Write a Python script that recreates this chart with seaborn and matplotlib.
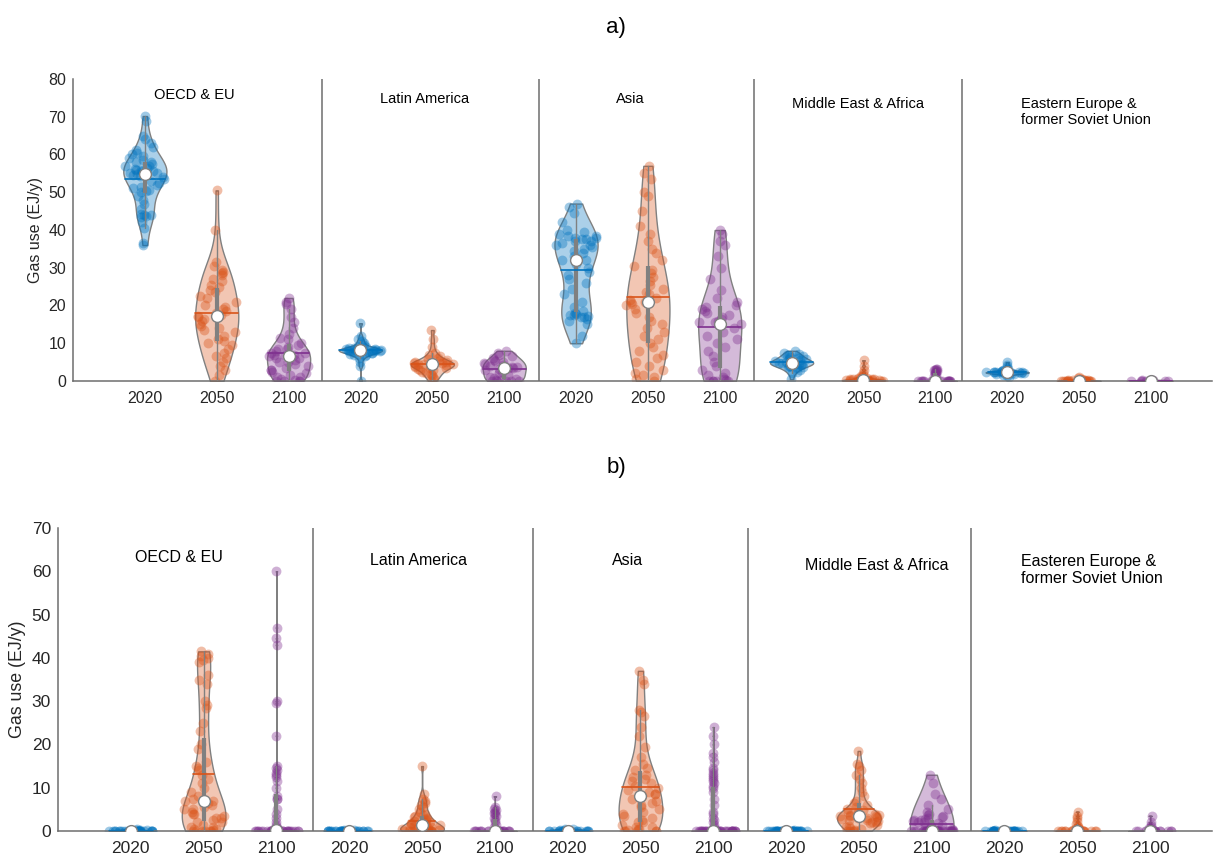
import numpy as np
import pandas as pd
import matplotlib
matplotlib.use("Agg")
import matplotlib.pyplot as plt
import seaborn as sns

# ---------------- data ----------------
years = ["2020", "2050", "2100"]
regions_a = ["OECD & EU", "Latin America", "Asia", "Middle East & Africa",
             "Eastern Europe &\nformer Soviet Union"]
regions_b = ["OECD & EU", "Latin America", "Asia", "Middle East & Africa",
             "Easteren Europe &\nformer Soviet Union"]

# panel a)
a_oecd_2020 = [70.2, 69.0, 65.0, 64.0, 63.0, 62.0, 61.2, 60.5, 60.0, 59.5, 59.0, 58.5, 58.0,
               58.0, 57.5, 57.0, 57.0, 56.5, 56.2, 56.0, 55.8, 55.5, 55.5, 55.2, 55.0, 55.0,
               54.8, 54.5, 54.2, 54.0, 53.5, 53.0, 52.5, 52.0, 51.5, 51.0, 50.5, 50.2, 50.0,
               49.0, 48.0, 47.0, 45.5, 44.2, 44.0, 44.0, 43.8, 43.5, 42.0, 40.5, 36.5, 36.0]
a_oecd_2050 = [50.5, 40.0, 31.5, 30.5, 29.5, 29.0, 28.5, 28.0, 27.0, 26.5, 25.5, 25.0, 24.0,
               23.5, 22.5, 22.0, 21.0, 20.0, 19.5, 19.0, 18.5, 18.0, 17.5, 17.2, 17.0, 16.5,
               16.0, 15.0, 14.5, 14.0, 13.5, 13.0, 12.0, 11.0, 10.5, 10.0, 9.5, 8.5, 7.5,
               6.5, 6.0, 5.0, 4.0, 3.0, 1.5, 0.0]
a_oecd_2100 = [22.0, 21.0, 20.5, 19.0, 17.0, 15.5, 14.0, 12.5, 11.5, 11.0, 10.0, 9.5, 9.0,
               8.5, 8.5, 8.0, 7.5, 7.5, 7.0, 7.0, 6.8, 6.5, 6.2, 6.0, 5.5, 5.0, 5.0, 4.5,
               4.0, 3.5, 3.0, 3.0, 2.5, 2.0, 1.5, 1.0, 1.0, 0.5, 0.3, 0.0, 0.0, 0.0, 0.0]
a_la_2020 = [15.3, 12.0, 11.0, 10.5, 10.0, 9.5, 9.2, 9.0, 8.8, 8.7, 8.6, 8.5, 8.4, 8.3, 8.3,
             8.2, 8.2, 8.1, 8.0, 8.0, 7.9, 7.8, 7.7, 7.6, 7.5, 7.4, 7.2, 7.0, 6.8, 6.5, 6.0,
             5.0, 4.0, 0.0]
a_la_2050 = [13.5, 11.0, 9.0, 7.5, 7.0, 6.5, 6.0, 5.8, 5.5, 5.3, 5.0, 5.0, 4.8, 4.7, 4.6,
             4.5, 4.5, 4.4, 4.3, 4.2, 4.0, 4.0, 3.8, 3.5, 3.5, 3.2, 3.0, 2.8, 2.5, 2.0, 1.8,
             1.5, 1.0, 0.5, 0.0]
a_la_2100 = [8.0, 7.5, 7.0, 6.5, 6.0, 5.5, 5.2, 5.0, 4.8, 4.5, 4.3, 4.0, 3.8, 3.6, 3.5, 3.4,
             3.3, 3.0, 2.5, 2.0, 1.5, 1.0, 0.8, 0.5, 0.3, 0.2, 0.1, 0.0, 0.0, 0.0, 0.0]
a_asia_2020 = [47.0, 46.0, 44.5, 42.0, 40.0, 39.5, 39.0, 38.5, 38.5, 38.0, 38.0, 37.5, 37.5,
               37.0, 37.0, 36.5, 36.0, 36.0, 35.5, 35.0, 34.5, 34.0, 33.0, 32.0, 32.0, 31.0,
               30.0, 29.0, 28.0, 27.0, 26.0, 24.5, 23.0, 21.0, 19.5, 18.5, 18.0, 17.8, 17.5,
               17.5, 17.2, 17.0, 17.0, 16.5, 16.0, 15.0, 12.0, 10.0]
a_asia_2050 = [57.0, 55.0, 53.5, 50.0, 49.0, 45.0, 41.0, 39.0, 37.0, 35.0, 34.0, 32.0, 30.5,
               29.5, 28.5, 27.5, 26.5, 25.5, 24.5, 23.5, 23.0, 22.0, 21.5, 21.0, 21.0, 20.5,
               20.0, 19.0, 18.0, 17.0, 16.0, 15.0, 14.0, 13.0, 12.0, 11.0, 10.0, 9.0, 8.0,
               7.0, 6.0, 5.0, 4.0, 3.0, 2.0, 1.5, 1.0, 0.5, 0.0]
a_asia_2100 = [40.0, 39.0, 37.0, 36.0, 33.0, 30.0, 27.0, 24.0, 22.0, 21.0, 20.0, 19.5, 19.0,
               18.5, 18.0, 17.5, 17.0, 16.5, 16.0, 15.5, 15.5, 15.0, 14.0, 13.0, 12.0, 11.0,
               10.0, 9.0, 8.0, 6.5, 5.0, 4.0, 3.0, 2.0, 1.5, 1.0, 0.5, 0.3, 0.0, 0.0, 0.0,
               0.0, 0.0]
a_mea_2020 = [8.0, 7.5, 7.2, 7.0, 6.8, 6.5, 6.3, 6.0, 5.9, 5.7, 5.5, 5.4, 5.2, 5.1, 5.0, 4.9,
              4.8, 4.8, 4.7, 4.6, 4.5, 4.4, 4.3, 4.1, 4.0, 3.8, 3.6, 3.4, 3.0, 2.5, 2.0, 0.5]
a_mea_2050 = [5.5, 4.0, 3.0, 2.2, 1.6, 1.2, 1.0, 0.8, 0.7, 0.6, 0.5, 0.5, 0.4, 0.4, 0.3, 0.3,
              0.3, 0.2, 0.2, 0.2, 0.1, 0.1, 0.1, 0.1, 0.0, 0.0, 0.0, 0.0, 0.0, 0.0]
a_mea_2100 = [3.2, 3.1, 3.0, 2.9, 2.8, 2.6, 2.4, 2.2, 2.0, 1.6, 1.2, 0.8, 0.5, 0.2, 0.05,
              0.04, 0.03, 0.03, 0.02, 0.02, 0.02, 0.01, 0.01, 0.01, 0.01, 0.0, 0.0, 0.0,
              0.0, 0.0, 0.0, 0.0]
a_ee_2020 = [5.0, 4.3, 3.8, 3.3, 3.0, 2.8, 2.7, 2.6, 2.5, 2.5, 2.4, 2.4, 2.4, 2.3, 2.3, 2.3,
             2.2, 2.2, 2.2, 2.1, 2.1, 2.0, 2.0, 1.9, 1.8, 1.6, 1.3, 1.0]
a_ee_2050 = [1.0, 0.8, 0.6, 0.5, 0.4, 0.3, 0.3, 0.2, 0.2, 0.2, 0.1, 0.1, 0.1, 0.1, 0.0, 0.0,
             0.0, 0.0, 0.0, 0.0, 0.0, 0.0, 0.0, 0.0]
a_ee_2100 = [0.3, 0.2, 0.1, 0.1, 0.0, 0.0, 0.0, 0.0, 0.0, 0.0]

# panel b)
b_oecd_2020 = [0.4, 0.3, 0.2, 0.2, 0.1, 0.1, 0.1, 0.05, 0.0, 0.0, 0.0, 0.0, 0.0, 0.0, 0.0,
               0.0, 0.0, 0.0, 0.0, 0.0, 0.0, 0.0, 0.0, 0.0, 0.0, 0.0, 0.0, 0.0, 0.0, 0.0]
b_oecd_2050 = [41.5, 41.0, 40.5, 40.0, 39.5, 39.0, 36.0, 35.0, 34.0, 30.0, 29.0, 28.5, 25.0,
               23.0, 20.0, 19.0, 16.0, 15.0, 14.5, 14.0, 13.0, 12.0, 11.0, 10.0, 9.0, 8.0,
               7.5, 7.0, 7.0, 6.5, 6.0, 5.5, 5.0, 5.0, 4.5, 4.0, 4.0, 3.5, 3.0, 3.0, 2.5,
               2.0, 2.0, 1.5, 1.0, 1.0, 0.5, 0.5, 0.3, 0.0, 0.0, 0.0, 0.0, 0.0, 0.0]
b_oecd_2100 = [60.0, 47.0, 44.5, 43.0, 30.0, 29.5, 22.0, 15.0, 14.5, 14.0, 13.5, 13.0, 12.5,
               11.5, 10.0, 8.0, 7.5, 7.5, 5.0, 4.0, 3.0, 2.0, 1.5, 1.0, 0.8, 0.5, 0.5, 0.3,
               0.2, 0.2, 0.1, 0.1, 0.0, 0.0, 0.0, 0.0, 0.0, 0.0, 0.0, 0.0, 0.0, 0.0, 0.0,
               0.0, 0.0, 0.0, 0.0, 0.0, 0.0, 0.0, 0.0, 0.0, 0.0, 0.0, 0.0, 0.0, 0.0, 0.0,
               0.0, 0.0]
b_la_2020 = [0.3, 0.2, 0.1, 0.1, 0.05, 0.0, 0.0, 0.0, 0.0, 0.0, 0.0, 0.0, 0.0, 0.0, 0.0,
             0.0, 0.0, 0.0, 0.0, 0.0, 0.0, 0.0, 0.0, 0.0, 0.0, 0.0, 0.0, 0.0, 0.0, 0.0]
b_la_2050 = [15.0, 8.5, 7.5, 7.0, 6.5, 6.0, 5.5, 5.0, 4.5, 4.0, 3.8, 3.5, 3.2, 3.0, 2.8, 2.5,
             2.2, 2.0, 2.0, 1.8, 1.6, 1.5, 1.4, 1.3, 1.2, 1.0, 1.0, 0.8, 0.6, 0.5, 0.4, 0.3,
             0.2, 0.1, 0.1, 0.0, 0.0, 0.0, 0.0, 0.0, 0.0, 0.0, 0.0, 0.0, 0.0, 0.0]
b_la_2100 = [8.0, 5.5, 5.0, 4.8, 4.5, 4.2, 4.0, 3.5, 3.0, 2.5, 2.0, 1.5, 1.0, 0.5, 0.2, 0.05,
             0.04, 0.03, 0.03, 0.02, 0.02, 0.02, 0.01, 0.01, 0.01, 0.01, 0.0, 0.0, 0.0,
             0.0, 0.0, 0.0, 0.0, 0.0, 0.0]
b_asia_2020 = [0.5, 0.4, 0.3, 0.2, 0.1, 0.0, 0.0, 0.0, 0.0, 0.0, 0.0, 0.0, 0.0, 0.0, 0.0,
               0.0, 0.0, 0.0, 0.0, 0.0]
b_asia_2050 = [37.0, 35.0, 34.0, 28.0, 27.5, 26.5, 24.0, 22.0, 19.5, 17.0, 15.5, 14.5, 14.0,
               13.0, 12.5, 12.0, 11.5, 11.0, 10.5, 10.0, 9.5, 9.0, 8.5, 8.5, 8.0, 8.0, 7.5,
               7.0, 6.5, 6.0, 5.5, 5.0, 4.5, 4.0, 3.5, 3.0, 2.5, 2.0, 2.0, 1.5, 1.0, 1.0,
               0.5, 0.5, 0.3, 0.0, 0.0, 0.0, 0.0, 0.0]
b_asia_2100 = [24.0, 22.0, 20.0, 18.0, 17.0, 16.0, 14.5, 14.0, 13.5, 13.0, 12.5, 12.0, 11.5,
               11.0, 10.5, 10.0, 9.0, 7.5, 6.0, 4.5, 4.0, 3.0, 2.5, 2.0, 1.5, 1.0, 0.5, 0.3,
               0.2, 0.1, 0.0, 0.0, 0.0, 0.0, 0.0, 0.0, 0.0, 0.0, 0.0, 0.0, 0.0, 0.0, 0.0,
               0.0, 0.0, 0.0, 0.0, 0.0, 0.0, 0.0, 0.0, 0.0, 0.0, 0.0, 0.0, 0.0, 0.0, 0.0,
               0.0, 0.0]
b_mea_2020 = [0.3, 0.2, 0.1, 0.1, 0.0, 0.0, 0.0, 0.0, 0.0, 0.0, 0.0, 0.0, 0.0, 0.0, 0.0,
              0.0, 0.0, 0.0, 0.0, 0.0, 0.0, 0.0, 0.0, 0.0, 0.0, 0.0, 0.0, 0.0, 0.0, 0.0,
              0.0, 0.0, 0.0, 0.0]
b_mea_2050 = [18.5, 15.5, 15.0, 14.0, 13.0, 12.0, 11.0, 10.0, 9.0, 8.0, 7.0, 6.5, 6.0, 5.5,
              5.0, 4.8, 4.5, 4.3, 4.0, 4.0, 3.8, 3.6, 3.5, 3.5, 3.4, 3.2, 3.0, 3.0, 2.8, 2.6,
              2.5, 2.3, 2.0, 2.0, 1.8, 1.5, 1.2, 1.0, 0.8, 0.5, 0.3, 0.0, 0.0, 0.0, 0.0]
b_mea_2100 = [13.0, 11.0, 8.5, 7.5, 6.0, 5.0, 4.5, 4.0, 3.8, 3.5, 3.2, 3.0, 2.8, 2.5, 2.5,
              2.2, 2.0, 2.0, 1.8, 1.5, 1.2, 1.0, 0.8, 0.5, 0.3, 0.0, 0.0, 0.0, 0.0, 0.0,
              0.0, 0.0, 0.0, 0.0, 0.0, 0.0, 0.0, 0.0, 0.0, 0.0, 0.0, 0.0, 0.0, 0.0, 0.0,
              0.0, 0.0, 0.0, 0.0, 0.0, 0.0, 0.0, 0.0, 0.0, 0.0]
b_ee_2020 = [0.3, 0.2, 0.1, 0.1, 0.0, 0.0, 0.0, 0.0, 0.0, 0.0, 0.0, 0.0, 0.0, 0.0, 0.0,
             0.0, 0.0, 0.0, 0.0, 0.0, 0.0, 0.0, 0.0, 0.0, 0.0, 0.0, 0.0, 0.0, 0.0]
b_ee_2050 = [4.5, 3.5, 3.0, 2.2, 1.6, 1.2, 1.0, 0.8, 0.6, 0.5, 0.4, 0.3, 0.3, 0.2, 0.1, 0.1,
             0.0, 0.0, 0.0, 0.0, 0.0, 0.0, 0.0, 0.0, 0.0, 0.0, 0.0, 0.0, 0.0, 0.0]
b_ee_2100 = [3.5, 2.0, 1.5, 1.0, 0.6, 0.4, 0.2, 0.1, 0.05, 0.04, 0.03, 0.02, 0.02, 0.01,
             0.01, 0.01, 0.0, 0.0, 0.0, 0.0, 0.0, 0.0, 0.0, 0.0, 0.0, 0.0, 0.0, 0.0]

groups_a = [a_oecd_2020, a_oecd_2050, a_oecd_2100, a_la_2020, a_la_2050, a_la_2100,
            a_asia_2020, a_asia_2050, a_asia_2100, a_mea_2020, a_mea_2050, a_mea_2100,
            a_ee_2020, a_ee_2050, a_ee_2100]
groups_b = [b_oecd_2020, b_oecd_2050, b_oecd_2100, b_la_2020, b_la_2050, b_la_2100,
            b_asia_2020, b_asia_2050, b_asia_2100, b_mea_2020, b_mea_2050, b_mea_2100,
            b_ee_2020, b_ee_2050, b_ee_2100]

# ---------------- style ----------------
sns.set_theme(style="white")
plt.rcParams["font.family"] = ["Liberation Sans", "DejaVu Sans"]

palette = {"2020": "#0072BD", "2050": "#D95319", "2100": "#7E2F8E"}
GRAY = "#808080"
AXC = "#6e6e6e"
TXT = "#262626"
HALF_W = 0.3

np.random.seed(3)


def bandwidth(v):
    # normal-reference rule with robust spread (as in MATLAB ksdensity)
    sig = np.median(np.abs(v - np.median(v))) / 0.6745
    if sig <= 0:
        sig = v.max() - v.min()
    if sig <= 0:
        sig = 1.0
    return sig * (4.0 / (3.0 * len(v))) ** 0.2


def kde(v, pts, h):
    return np.exp(-0.5 * ((pts[:, None] - v[None, :]) / h) ** 2).sum(axis=1)


def draw_panel(ax, groups, regions, label_pos, ylim, yticks, sep_x, fs_tick, fs_lab, fs_ylab):
    names = [f"g{i}" for i in range(len(groups))]
    for i, vals in enumerate(groups):
        v = np.asarray(vals, float)
        col = palette[years[i % 3]]
        h = bandwidth(v)
        sd = np.std(v, ddof=1)
        df = pd.DataFrame({"grp": [names[i]] * len(v), "val": v})
        before = len(ax.collections)
        sns.violinplot(data=df, x="grp", y="val", order=names, color=col,
                       inner=None, cut=0, density_norm="width", width=2 * HALF_W,
                       linewidth=1.0, linecolor=GRAY, saturation=1,
                       bw_method=h / sd, gridsize=800, ax=ax)
        for coll in ax.collections[before:]:
            fc = coll.get_facecolor()
            if len(fc):
                c = fc[0].copy()
                c[3] = 0.33
                coll.set_facecolor(c)
            coll.set_edgecolor(GRAY)
            coll.set_linewidth(1.0)
            coll.set_zorder(1)

        grid = np.linspace(v.min(), v.max(), 800)
        dmax = kde(v, grid, h).max()
        dens = kde(v, v, h) / dmax
        xj = i + np.random.uniform(-1, 1, len(v)) * HALF_W * dens
        ax.scatter(xj, v, s=50, color=col, alpha=0.38, linewidths=0, zorder=2)

        q1, med, q3 = np.percentile(v, [25, 50, 75])
        iqr = q3 - q1
        lo = v[v >= q1 - 1.5 * iqr].min()
        hi = v[v <= q3 + 1.5 * iqr].max()
        ax.plot([i, i], [lo, hi], color=GRAY, lw=1.0, zorder=3)
        ax.plot([i, i], [q1, q3], color=GRAY, lw=3.0, zorder=3, solid_capstyle="butt")
        m = v.mean()
        hw = HALF_W * kde(v, np.array([m]), h)[0] / dmax
        ax.plot([i - hw, i + hw], [m, m], color=col, lw=1.2, zorder=4)
        ax.plot([i], [med], marker="o", ms=8.5, mfc="white", mec=GRAY, mew=1.0,
                zorder=5, ls="none")

    for xs in sep_x:
        ax.axvline(xs, color=AXC, lw=1.1, zorder=0)

    for txt, (x, y) in zip(regions, label_pos):
        ax.text(x, y, txt, ha="center", va="center", multialignment="left",
                fontsize=fs_lab, color="black")

    ax.set_xlim(-1.0, 14.85)
    ax.set_ylim(*ylim)
    ax.set_xticks(range(len(groups)))
    ax.set_xticklabels([years[i % 3] for i in range(len(groups))])
    ax.set_yticks(yticks)
    ax.set_xlabel("")
    ax.set_ylabel("Gas use (EJ/y)", fontsize=fs_ylab, color=TXT)
    for s in ["top", "right"]:
        ax.spines[s].set_visible(False)
    for s in ["left", "bottom"]:
        ax.spines[s].set_color(AXC)
        ax.spines[s].set_linewidth(1.1)
    ax.tick_params(axis="both", direction="in", length=8.5, width=1.0, color=AXC,
                   labelsize=fs_tick, labelcolor=TXT)
    ax.tick_params(axis="x", pad=7)
    ax.tick_params(axis="y", pad=5)
    ax.set_facecolor("white")


fig = plt.figure(figsize=(12.16, 8.59), dpi=100)
ax_a = fig.add_axes([73 / 1216, 1 - 381 / 859, (1212 - 73) / 1216, (381 - 79) / 859])
ax_b = fig.add_axes([58 / 1216, 1 - 831 / 859, (1212 - 58) / 1216, (831 - 528) / 859])

draw_panel(ax_a, groups_a, regions_a,
           [(0.69, 75.8), (3.89, 74.7), (6.75, 74.7), (9.92, 73.4), (13.1, 71.3)],
           (0, 80), range(0, 81, 10), [2.47, 5.49, 8.47, 11.37], 11.5, 10.5, 11.5)
draw_panel(ax_b, groups_b, regions_b,
           [(0.66, 63.3), (3.95, 62.6), (6.82, 62.6), (10.25, 61.4), (13.2, 60.3)],
           (0, 70), range(0, 71, 10), [2.5, 5.52, 8.48, 11.54], 12.5, 11.5, 12.8)

ax_a.yaxis.set_label_coords(-0.026, 0.5)
ax_b.yaxis.set_label_coords(-0.028, 0.5)

fig.text(616 / 1216, 1 - 28 / 859, "a)", ha="center", va="center", fontsize=16, color="black")
fig.text(616 / 1216, 1 - 467 / 859, "b)", ha="center", va="center", fontsize=16, color="black")

fig.savefig("out.png", dpi=100, facecolor="white")
